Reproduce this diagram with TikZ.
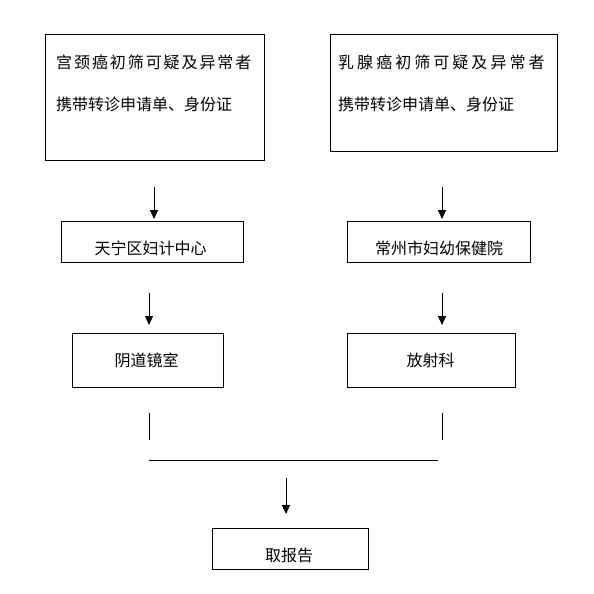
\documentclass[tikz,border=0pt]{standalone}
\usepackage{fontspec}
\usepackage{tikz}
\usetikzlibrary{arrows.meta}
\newfontfamily\cjk{Noto Sans CJK SC}

\tikzset{
  box/.style={draw, line width=1pt, inner sep=0pt},
  txt/.style={inner sep=0pt, font=\cjk\fontsize{16pt}{16pt}\selectfont},
  arr/.style={line width=1pt, -{Triangle[length=9pt,width=8pt]}},
  lnk/.style={line width=1pt},
}

\begin{document}
\begin{tikzpicture}[x=1pt, y=-1pt]
  \useasboundingbox[fill=white] (0,0) rectangle (594,594);

  % referral boxes
  \node[box, minimum width=219pt, minimum height=125pt] (cervix) at (154.5,97.5) {};
  \node[txt, anchor=west] (cervix-t1) at (56,62) {\addfontfeatures{LetterSpace=12}宫颈癌初筛可疑及异常者};
  \node[txt, anchor=west] (cervix-t2) at (56,104) {携带转诊申请单、身份证};
  \node[box, minimum width=227pt, minimum height=116pt] (breast) at (443.5,93) {};
  \node[txt, anchor=west] (breast-t1) at (338,62) {\addfontfeatures{LetterSpace=19}乳腺癌初筛可疑及异常者};
  \node[txt, anchor=west] (breast-t2) at (338,104) {携带转诊申请单、身份证};

  % hospitals
  \node[box, minimum width=182pt, minimum height=41pt] (tianning) at (152,241.5) {};
  \node[txt] (tianning-t) at (150.5,248) {天宁区妇计中心};
  \node[box, minimum width=183pt, minimum height=41pt] (fuyou) at (438.5,241.5) {};
  \node[txt] (fuyou-t) at (439,248) {常州市妇幼保健院};

  % departments
  \node[box, minimum width=151pt, minimum height=54pt] (colpo) at (147.5,360) {};
  \node[txt] (colpo-t) at (146.5,360) {阴道镜室};
  \node[box, minimum width=168pt, minimum height=54pt] (radio) at (431,360) {};
  \node[txt] (radio-t) at (430.5,360) {放射科};

  % report
  \node[box, minimum width=156pt, minimum height=41pt] (report) at (290,548.5) {};
  \node[txt] (report-t) at (289,555) {取报告};

  % arrow ends
  \coordinate (a1) at (154,187);
  \coordinate (b1) at (154,219);
  \coordinate (a2) at (442,187);
  \coordinate (b2) at (442,219);
  \coordinate (a3) at (149,293);
  \coordinate (b3) at (149,325);
  \coordinate (a4) at (442,293);
  \coordinate (b4) at (442,325);
  \coordinate (l1) at (149,413);
  \coordinate (m1) at (149,440);
  \coordinate (l2) at (442,413);
  \coordinate (m2) at (442,440);
  \coordinate (h1) at (149,460);
  \coordinate (h2) at (438,460);
  \coordinate (a5) at (286,478);
  \coordinate (b5) at (286,514);

  \draw[arr] (a1) -- (b1);
  \draw[arr] (a2) -- (b2);
  \draw[arr] (a3) -- (b3);
  \draw[arr] (a4) -- (b4);
  \draw[lnk] (l1) -- (m1);
  \draw[lnk] (l2) -- (m2);
  \draw[lnk] (h1) -- (h2);
  \draw[arr] (a5) -- (b5);
\end{tikzpicture}
\end{document}
